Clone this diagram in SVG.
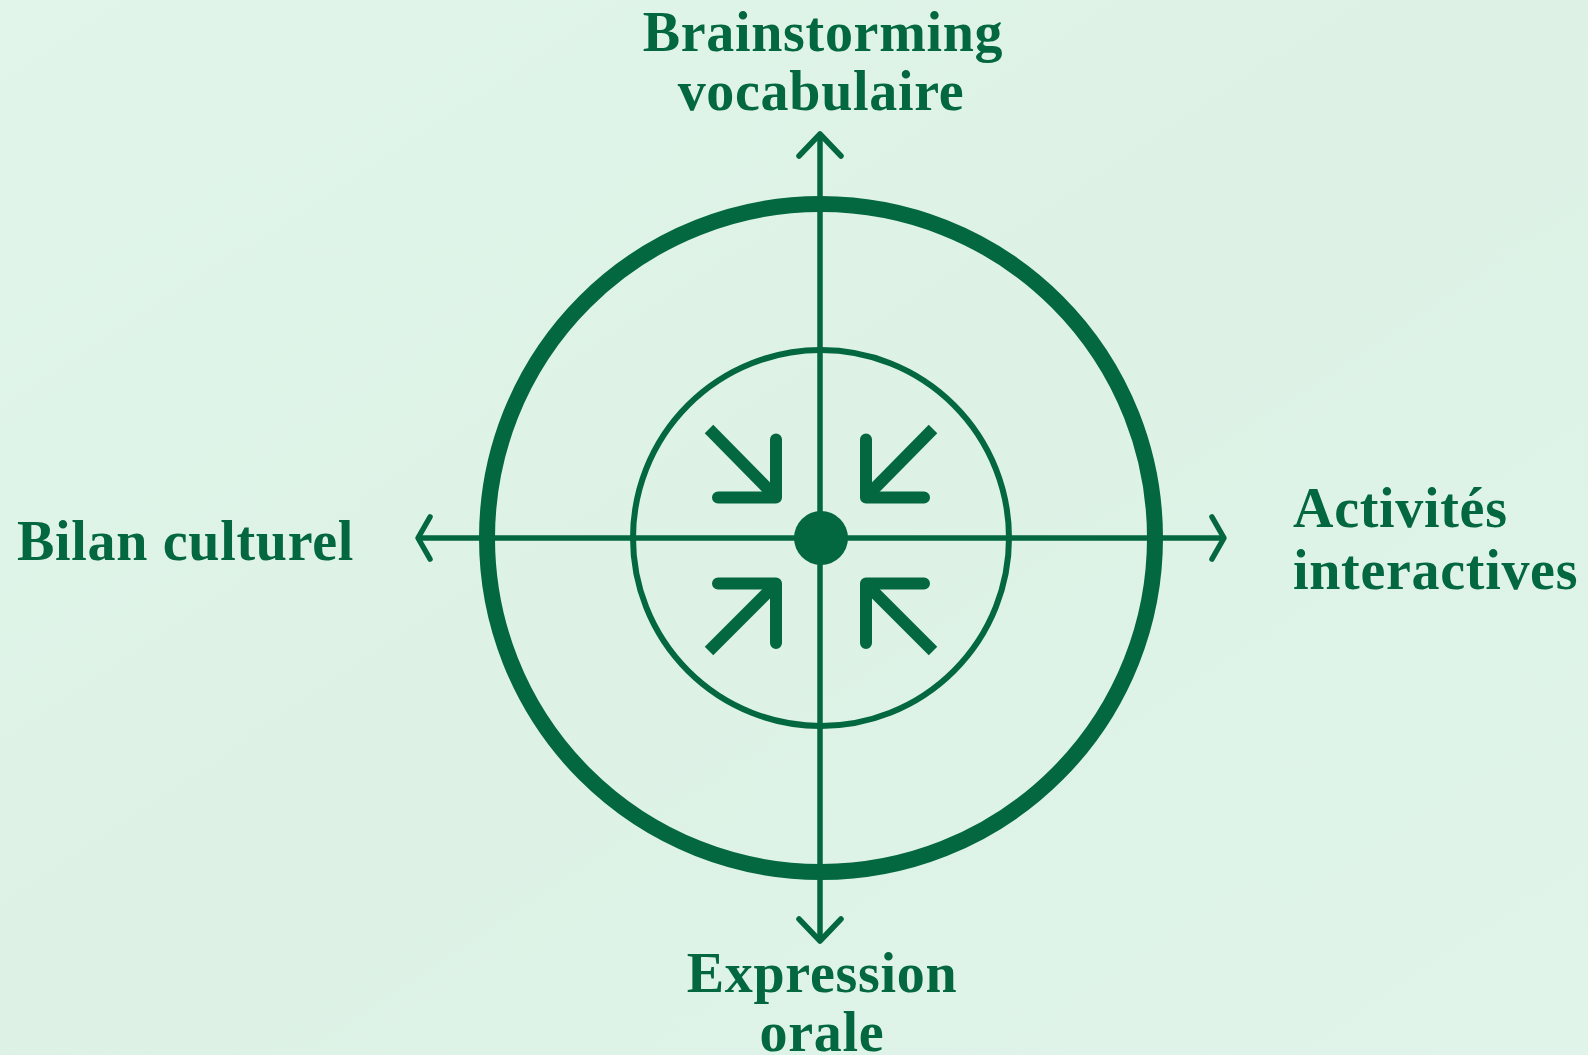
<svg xmlns="http://www.w3.org/2000/svg" width="1588" height="1055" viewBox="0 0 1588 1055">
<defs>
<linearGradient id="bg" x1="0" y1="0" x2="1" y2="1">
<stop offset="0" stop-color="#e1f5ea"/>
<stop offset="0.5" stop-color="#ddf2e5"/>
<stop offset="1" stop-color="#e0f4ea"/>
</linearGradient>
<style>
.lbl{font-family:"Liberation Serif","DejaVu Serif",serif;font-weight:bold;font-size:56px;fill:#03673f;letter-spacing:0.7px}
.ln{stroke:#03673f;stroke-width:5.5;fill:none}
.head{stroke:#03673f;stroke-width:5.5;fill:none;stroke-linecap:round;stroke-linejoin:round}
.chev{stroke:#03673f;stroke-width:12;fill:none;stroke-linecap:round;stroke-linejoin:round}
.diag{stroke:#03673f;stroke-width:12;fill:none;stroke-linecap:butt}
</style>
</defs>
<rect width="1588" height="1055" fill="url(#bg)"/>
<g id="target">
<circle cx="821" cy="538" r="334" fill="none" stroke="#03673f" stroke-width="16"/>
<circle cx="821" cy="538" r="188" fill="none" stroke="#03673f" stroke-width="6"/>
</g>
<g id="connectors">
<line class="ln" x1="820" y1="135" x2="820" y2="939"/>
<line class="ln" x1="420" y1="538" x2="1222" y2="538"/>
<polyline class="head" points="799,156 820,134 841,156"/>
<polyline class="head" points="799,919 820,941 841,919"/>
<polyline class="head" points="430,517 418,538 430,559"/>
<polyline class="head" points="1212,517 1224,538 1212,559"/>
</g>
<g id="center-icon">
<circle cx="821" cy="538" r="27" fill="#03673f"/>
<line class="diag" x1="709" y1="429" x2="774" y2="495"/>
<polyline class="chev" points="718,497.5 776,497.5 776,439.5"/>
<line class="diag" x1="933" y1="429" x2="868" y2="495"/>
<polyline class="chev" points="924,497.5 866,497.5 866,439.5"/>
<line class="diag" x1="709" y1="651" x2="774" y2="586"/>
<polyline class="chev" points="718,583.5 776,583.5 776,643"/>
<line class="diag" x1="933" y1="651" x2="868" y2="586"/>
<polyline class="chev" points="924,583.5 866,583.5 866,643"/>
</g>
<g id="node-top">
<text class="lbl" x="823" y="51" text-anchor="middle">Brainstorming</text>
<text class="lbl" x="821" y="110" text-anchor="middle">vocabulaire</text>
</g>
<g id="node-right">
<text class="lbl" x="1293" y="527">Activités</text>
<text class="lbl" x="1293" y="589">interactives</text>
</g>
<g id="node-bottom">
<text class="lbl" x="822" y="992" text-anchor="middle">Expression</text>
<text class="lbl" x="822" y="1051" text-anchor="middle">orale</text>
</g>
<g id="node-left">
<text class="lbl" x="17" y="560">Bilan culturel</text>
</g>
</svg>
